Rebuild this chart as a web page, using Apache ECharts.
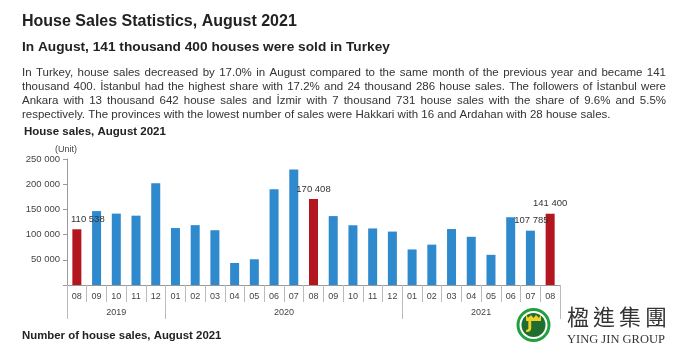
<!DOCTYPE html>
<html>
<head>
<meta charset="utf-8">
<script src="https://cdn.jsdelivr.net/npm/echarts@6/dist/echarts.min.js"></script>
<style>
html,body{margin:0;padding:0;background:#fff;}
#c{width:676px;height:357px;}
</style>
</head>
<body>
<div id="c"></div>
<script>
// ---- data ----
const months = ['08','09','10','11','12','01','02','03','04','05','06','07','08','09','10','11','12','01','02','03','04','05','06','07','08'];
const sales = [110538,146626,141622,137586,202072,113019,118753,108670,43650,51035,190012,229357,170408,136713,118512,112201,105979,70543,80076,111014,95608,59854,134452,107785,141400];
const highlighted = [0,12,24];          // August bars (red)
const labelled = [0,12,23,24];          // bars with value labels
const years = ['2019','2020','2021'];
const yearStarts = [0,5,17,25];         // category boundaries between years
const yearCenters = [2.5,11,21];

const title = 'House Sales Statistics, August 2021';
const subtitle = 'In August, 141 thousand 400 houses were sold in Turkey';
const paragraph = [
 'In Turkey, house sales decreased by 17.0% in August compared to the same month of the previous year and became 141',
 'thousand 400. İstanbul had the highest share with 17.2% and 24 thousand 286 house sales. The followers of İstanbul were',
 'Ankara with 13 thousand 642 house sales and İzmir with 7 thousand 731 house sales with the share of 9.6% and 5.5%',
 'respectively. The provinces with the lowest number of sales were Hakkari with 16 and Ardahan with 28 house sales.'
];
const chartTitle = 'House sales, August 2021';
const bottomTitle = 'Number of house sales, August 2021';
const unitText = '(Unit)';

// ---- helpers ----
const FONT = '"Liberation Sans", Arial, sans-serif';
const BLUE = '#2F89CD', RED = '#B3161E';
function fmt(v){ return String(v).replace(/\B(?=(\d{3})+(?!\d))/g,' '); }

const chart = echarts.init(document.getElementById('c'), null, {renderer:'canvas'});

// justified paragraph built word by word
const pSize = 11.5, pLeft = 22, pRight = 666, pTop = 74, pLH = 14;
const mctx = document.createElement('canvas').getContext('2d');
mctx.font = pSize + 'px ' + FONT;
const graphics = [];
paragraph.forEach((line, li) => {
  const words = line.split(' ');
  const ws = words.map(w => mctx.measureText(w).width);
  const sum = ws.reduce((a,b)=>a+b,0);
  const justify = li < paragraph.length - 1;
  const gap = justify ? (pRight - pLeft - sum) / (words.length - 1) : mctx.measureText(' ').width;
  let x = pLeft;
  words.forEach((w, i) => {
    graphics.push({type:'text', left:x, top:pTop + li*pLH - pSize/2 - 1, style:{text:w, font:pSize+'px '+FONT, fill:'#333'}});
    x += ws[i] + gap;
  });
});

graphics.push(
  {type:'text', left:22, top:14, style:{text:title, font:'bold 16px '+FONT, fill:'#222'}},
  {type:'text', left:22, top:40, style:{text:subtitle, font:'bold 13.7px '+FONT, fill:'#222'}},
  {type:'text', left:24, top:126, style:{text:chartTitle, font:'bold 11.5px '+FONT, fill:'#222'}},
  {type:'text', left:55, top:145, style:{text:unitText, font:'9px '+FONT, fill:'#444'}},
  {type:'text', left:22, top:330, style:{text:bottomTitle, font:'bold 11.4px '+FONT, fill:'#222'}},
  // logo
  {type:'circle', shape:{cx:533.5, cy:325, r:15.5}, style:{fill:'#fff', stroke:'#22A03F', lineWidth:3}},
  {type:'circle', shape:{cx:533.5, cy:325, r:12}, style:{fill:'#1F6E2E'}},
  {type:'polygon', shape:{points:[[526,314],[528,318],[531,315],[533.5,318],[536,315],[539,318],[541,314],[541,321],[526,321]]}, style:{fill:'#F2D22A'}},
  {type:'text', left:527, top:318, style:{text:'J', font:'bold 15px "DejaVu Sans", sans-serif', fill:'#F2D22A'}},
  {type:'text', left:567, top:333, style:{text:'YING JIN GROUP', font:'12.5px "Liberation Serif", serif', fill:'#333'}}
);
['楹','進','集','團'].forEach((ch,i)=>{
  graphics.push({type:'text', left:567 + i*26, top:306, style:{text:ch, font:'22px "Noto Sans CJK TC", sans-serif', fill:'#333'}});
});

const barData = sales.map((v,i)=>{
  const item = {value:v, itemStyle:{color: highlighted.includes(i) ? RED : BLUE}};
  if (labelled.includes(i)) {
    item.label = {show:true, position:'top', distance:5, formatter: p => fmt(p.value),
      offset: i===0 ? [11,0] : (i===23 ? [1,0] : [0,0])};
  }
  return item;
});

chart.setOption({
  animation:false,
  grid:{left:67, right:116, top:159, bottom:72, containLabel:false},
  xAxis:[
    {type:'category', data:months, gridIndex:0, position:'bottom',
     axisLine:{show:true, lineStyle:{color:'#999', width:1}},
     axisTick:{show:true, interval:0, length:17, lineStyle:{color:'#bbb'}},
     axisLabel:{interval:0, margin:7, fontSize:9, color:'#444', fontFamily:FONT},
     splitLine:{show:false}},
    {type:'value', min:0, max:25, gridIndex:0, position:'bottom',
     axisLine:{show:false},
     axisTick:{show:true, customValues:yearStarts, length:34, lineStyle:{color:'#bbb'}},
     axisLabel:{show:true, customValues:yearCenters, margin:23, fontSize:9, color:'#444', fontFamily:FONT,
       formatter: v => years[yearCenters.indexOf(v)] || ''},
     splitLine:{show:false}}
  ],
  yAxis:{type:'value', min:0, max:250000, interval:50000,
    axisLine:{show:true, lineStyle:{color:'#999'}},
    axisTick:{show:true, length:4, lineStyle:{color:'#999'}},
    axisLabel:{margin:7, fontSize:9.5, color:'#444', fontFamily:FONT, formatter: v => v===0 ? '' : fmt(v)},
    splitLine:{show:false}},
  series:[{type:'bar', xAxisIndex:0, yAxisIndex:0, data:barData, barWidth:9,
    label:{fontSize:9.5, color:'#333', fontFamily:FONT}}],
  graphic: graphics
});
</script>
</body>
</html>
